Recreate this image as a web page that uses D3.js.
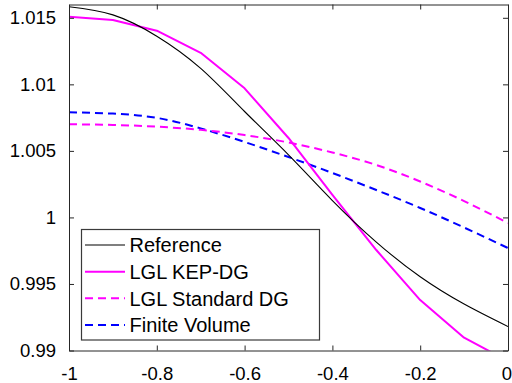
<!DOCTYPE html>
<html>
<head>
<meta charset="utf-8">
<script src="https://cdn.jsdelivr.net/npm/d3@7"></script>
<style>
  html, body { margin: 0; padding: 0; background: #fff; }
  svg { display: block; }
  text { font-family: "Liberation Sans", Arial, Helvetica, sans-serif; fill: #000; }
</style>
</head>
<body>
<svg id="chart" width="512" height="383"></svg>
<script>
// Sample positions along the domain
const xs = [-1, -0.9, -0.8, -0.7, -0.6, -0.5, -0.4, -0.3, -0.2, -0.1, 0];

// Solution values for each method
const reference   = [1.01583, 1.01522, 1.01362, 1.01120, 1.00796, 1.00470, 1.00127, 0.99815, 0.99554, 0.99349, 0.99180];
const kepDG       = [1.01508, 1.01483, 1.01403, 1.01237, 1.00970, 1.00597, 1.00170, 0.99755, 0.99379, 0.99096, 0.98921];
const standardDG  = [1.00700, 1.00695, 1.00682, 1.00658, 1.00619, 1.00563, 1.00488, 1.00394, 1.00270, 1.00123, 0.99958];
const finiteVol   = [1.00790, 1.00780, 1.00748, 1.00669, 1.00567, 1.00454, 1.00334, 1.00206, 1.00071, 0.99924, 0.99770];

// Axis ticks
const xTicks = [-1, -0.8, -0.6, -0.4, -0.2, 0];
const xTickLabels = ["-1", "-0.8", "-0.6", "-0.4", "-0.2", "0"];
const yTicks = [0.99, 0.995, 1, 1.005, 1.01, 1.015];
const yTickLabels = ["0.99", "0.995", "1", "1.005", "1.01", "1.015"];

// Legend entries
const seriesNames = ["Reference", "LGL KEP-DG", "LGL Standard DG", "Finite Volume"];

const svg = d3.select("#chart");
const plotLeft = 69, plotRight = 508, plotTop = 4.5, plotBottom = 350.5;

const x = d3.scaleLinear().domain([-1, 0]).range([plotLeft, plotRight]);
const y = d3.scaleLinear().domain([0.99, 1.016]).range([plotBottom, plotTop]);

svg.append("rect").attr("width", 512).attr("height", 383).attr("fill", "#fff");

svg.append("defs").append("clipPath").attr("id", "plotArea")
  .append("rect").attr("x", plotLeft).attr("y", plotTop)
  .attr("width", plotRight - plotLeft).attr("height", plotBottom - plotTop);

const series = [
  { name: seriesNames[0], values: reference,  color: "#000000", width: 1.1, dash: null, curve: d3.curveNatural },
  { name: seriesNames[1], values: kepDG,      color: "#ff00ff", width: 2,   dash: null, curve: d3.curveLinear },
  { name: seriesNames[2], values: standardDG, color: "#ff00ff", width: 2,   dash: "8,5", curve: d3.curveNatural },
  { name: seriesNames[3], values: finiteVol,  color: "#0000ff", width: 2,   dash: "8,5", curve: d3.curveNatural }
];

const plot = svg.append("g").attr("clip-path", "url(#plotArea)");
// draw in reverse so the reference solution lands on top
series.slice().reverse().forEach(s => {
  const line = d3.line().x((d, i) => x(xs[i])).y(d => y(d)).curve(s.curve);
  plot.append("path")
    .datum(s.values)
    .attr("d", line)
    .attr("fill", "none")
    .attr("stroke", s.color)
    .attr("stroke-width", s.width)
    .attr("stroke-dasharray", s.dash)
    .attr("stroke-linejoin", "round");
});

// Axes box with inward ticks on all four sides
const axisColor = "#262626";
const tickLen = 5;

const xAxisBottom = d3.axisBottom(x).tickValues(xTicks).tickSizeInner(-tickLen).tickSizeOuter(0)
  .tickPadding(12).tickFormat((d, i) => xTickLabels[i]);
const xAxisTop = d3.axisTop(x).tickValues(xTicks).tickSizeInner(-tickLen).tickSizeOuter(0).tickFormat("");
const yAxisLeft = d3.axisLeft(y).tickValues(yTicks).tickSizeInner(-tickLen).tickSizeOuter(0)
  .tickPadding(13).tickFormat((d, i) => yTickLabels[i]);
const yAxisRight = d3.axisRight(y).tickValues(yTicks).tickSizeInner(-tickLen).tickSizeOuter(0).tickFormat("");

function styleAxis(g) {
  g.select(".domain").attr("stroke", axisColor).attr("stroke-width", 1);
  g.selectAll(".tick line").attr("stroke", axisColor).attr("stroke-width", 1);
  g.selectAll(".tick text").style("font-size", "18.5px").attr("fill", "#262626");
}

const gxb = svg.append("g").attr("transform", `translate(0,${plotBottom})`).call(xAxisBottom).call(styleAxis);
gxb.selectAll(".tick text").attr("dy", "0.95em");
// keep the label at the right end inside the canvas
gxb.selectAll(".tick text").filter(d => d === 0).attr("dx", "-1.5");
svg.append("g").attr("transform", `translate(0,${plotTop})`).call(xAxisTop).call(styleAxis);
svg.append("g").attr("transform", `translate(${plotLeft},0)`).call(yAxisLeft).call(styleAxis);
svg.append("g").attr("transform", `translate(${plotRight},0)`).call(yAxisRight).call(styleAxis);

svg.selectAll(".tick text").attr("font-family", "Liberation Sans, Arial, sans-serif");

// Legend
const legend = svg.append("g");
legend.append("rect")
  .attr("x", 81.5).attr("y", 229.5).attr("width", 238).attr("height", 110.5)
  .attr("fill", "#fff").attr("stroke", "#3a3a3a").attr("stroke-width", 1.2);

const rowY = d3.scaleLinear().domain([0, 3]).range([245, 325]);
series.forEach((s, i) => {
  const yy = rowY(i);
  legend.append("line")
    .attr("x1", 85).attr("x2", 125).attr("y1", yy).attr("y2", yy)
    .attr("stroke", s.color).attr("stroke-width", s.width)
    .attr("stroke-dasharray", s.dash);
  legend.append("text")
    .attr("x", 129.5).attr("y", yy).attr("dy", "0.36em")
    .style("font-size", "20px")
    .text(s.name);
});
</script>
</body>
</html>
